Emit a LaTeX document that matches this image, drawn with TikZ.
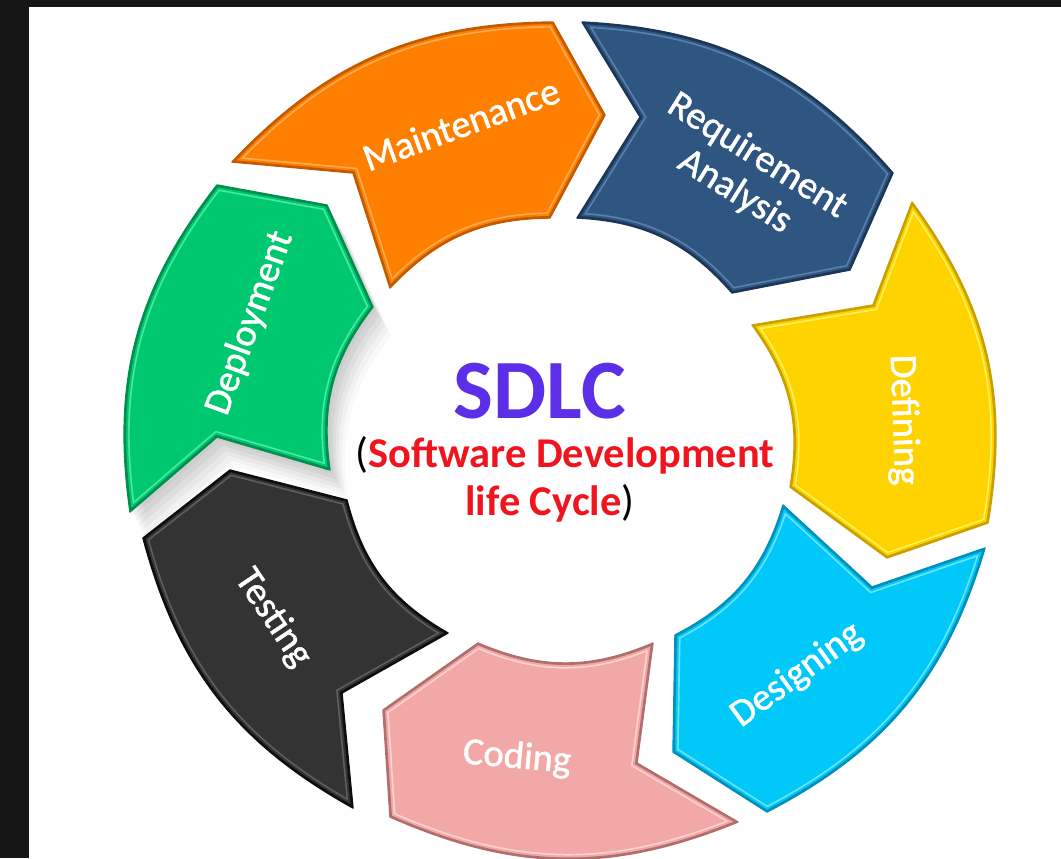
\documentclass[tikz,border=0pt]{standalone}
\usepackage{fontspec}
\setmainfont{Carlito}
\newfontfamily\lblfont[FakeBold=1.2]{Carlito}
\definecolor{frame}{HTML}{161616}
\definecolor{oBase}{HTML}{FF7F00}\definecolor{oDark}{HTML}{C25A00}\definecolor{oLight}{HTML}{FFAA55}
\definecolor{bBase}{HTML}{2F5581}\definecolor{bDark}{HTML}{1C3656}\definecolor{bLight}{HTML}{5A80AD}
\definecolor{yBase}{HTML}{FFD300}\definecolor{yDark}{HTML}{C9A000}\definecolor{yLight}{HTML}{FFF25A}
\definecolor{cBase}{HTML}{00C8F8}\definecolor{cDark}{HTML}{0090BC}\definecolor{cLight}{HTML}{6CE4FF}
\definecolor{pBase}{HTML}{F2A8A6}\definecolor{pDark}{HTML}{B06E6C}\definecolor{pLight}{HTML}{FDD3D1}
\definecolor{gBase}{HTML}{333333}\definecolor{gDark}{HTML}{0E0E0E}\definecolor{gLight}{HTML}{5E5E5E}
\definecolor{eBase}{HTML}{00C870}\definecolor{eDark}{HTML}{008F4E}\definecolor{eLight}{HTML}{48EAA2}
\definecolor{sdlcpurple}{HTML}{5B2EE8}
\definecolor{sdlcred}{HTML}{F0141E}
\newcommand\seg[6]{#1 -- #2 -- #3 to[bend left=23] #4 -- #5 -- #6 to[bend right=23] #1 -- cycle}
\newcommand\drawseg[4]{%
  \begin{scope}
    \clip #4;
    \fill[#1] #4;
    \draw[#3, line width=8pt] #4;
    \draw[#1, line width=5.6pt] #4;
    \draw[#2, line width=2.8pt] #4;
  \end{scope}
  \draw[#2, line width=1pt, line join=round] #4;
}
\def\pMain{\seg{(232,162)}{(353,173)}{(390,288)}{(550,218)}{(605,115)}{(553,22)}}
\def\pReq{\seg{(582,22)}{(640,117)}{(577,218)}{(732,293)}{(850,270)}{(893,173)}}
\def\pDef{\seg{(912,202)}{(873,305)}{(752,325)}{(790,487)}{(887,558)}{(988,523)}}
\def\pDes{\seg{(985,548)}{(872,587)}{(783,505)}{(675,635)}{(673,752)}{(767,812)}}
\def\pCod{\seg{(738,822)}{(637,763)}{(653,643)}{(478,643)}{(383,710)}{(390,817)}}
\def\pTest{\seg{(353,808)}{(342,693)}{(448,633)}{(347,500)}{(230,470)}{(143,538)}}
\def\pDep{\seg{(130,512)}{(217,437)}{(330,470)}{(373,307)}{(327,205)}{(217,185)}}
\tikzset{
  lbl/.style={text=white, inner sep=0pt, font=\lblfont\fontsize{27.4}{30}\selectfont},
  sub/.style={anchor=base, inner sep=0pt, font=\bfseries\fontsize{30.2}{34}\selectfont}
}
\begin{document}
\begin{tikzpicture}[x=0.025cm,y=-0.025cm]
\useasboundingbox (0,0) rectangle (1061,858);
\fill[white] (0,0) rectangle (1061,858);
\fill[frame] (0,0) rectangle (1061,7);
\fill[frame] (0,0) rectangle (29,858);
% soft shadow of the green segment
\foreach \dx/\dy/\op in {3/4/0.04,6/9/0.04,9/14/0.04,12/19/0.035,15/24/0.03,18/29/0.025}
  \fill[black, opacity=\op, shift={(\dx,\dy)}] \pDep;
% segments
\drawseg{oBase}{oDark}{oLight}{\pMain}
\drawseg{bBase}{bDark}{bLight}{\pReq}
\drawseg{yBase}{yDark}{yLight}{\pDef}
\drawseg{cBase}{cDark}{cLight}{\pDes}
\drawseg{pBase}{pDark}{pLight}{\pCod}
\drawseg{gBase}{gDark}{gLight}{\pTest}
\drawseg{eBase}{eDark}{eLight}{\pDep}
% labels
\node[lbl, rotate=20] (lMain) at (461,124) {Maintenance};
\node[lbl, rotate=-32, align=center] (lReq) at (746,174) {Requirement\\Analysis};
\node[lbl, rotate=-88] (lDef) at (903,420) {Defining};
\node[lbl, rotate=36] (lDes) at (797,675) {Designing};
\node[lbl, rotate=-5] (lCod) at (517,758) {Coding};
\node[lbl, rotate=-56] (lTest) at (273,618) {Testing};
\node[lbl, rotate=70] (lDep) at (250,323) {Deployment};
% centre text
\node[anchor=base, inner sep=0pt, text=sdlcpurple, font=\bfseries\fontsize{60}{72}\selectfont] (title) at (540,418) {SDLC};
\node[sub] (sub1) at (565,467) {{\mdseries(}\textcolor{sdlcred}{Software Development}};
\node[sub] (sub2) at (550,515) {\textcolor{sdlcred}{life Cycle}{\mdseries)}};
\end{tikzpicture}
\end{document}
